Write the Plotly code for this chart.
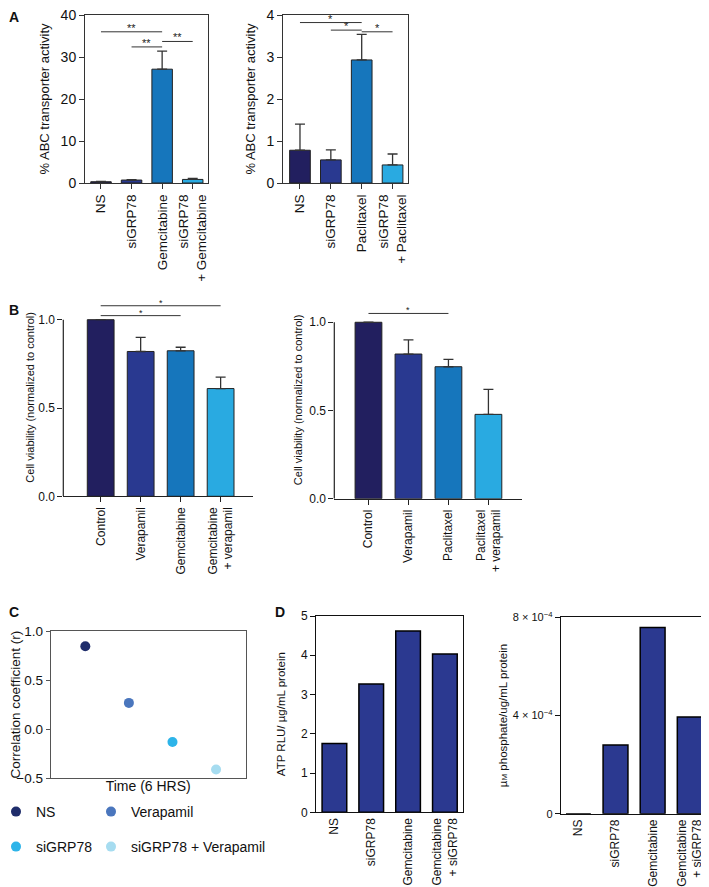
import plotly.graph_objects as go

FONT = "Liberation Sans, Arial, Helvetica, sans-serif"
W, H = 709, 887
OFF = 8  # page body margin compensation (px)

# ---------------- data ----------------
# Panel A (left: gemcitabine, right: paclitaxel)
a1_cats = ["NS", "siGRP78", "Gemcitabine", "siGRP78<br>+ Gemcitabine"]
a1_vals = [0.3, 0.7, 27.1, 0.85]
a1_err = [0.1, 0.1, 4.3, 0.25]
a1_sig = [(0, 2, 36.0, "**"), (1, 2, 32.4, "**"), (2, 3, 33.7, "**")]

a2_cats = ["NS", "siGRP78", "Paclitaxel", "siGRP78<br>+ Paclitaxel"]
a2_vals = [0.78, 0.55, 2.93, 0.43]
a2_err = [0.62, 0.24, 0.61, 0.26]
a2_sig = [(0, 2, 3.82, "*"), (1, 2, 3.64, "*"), (2, 3, 3.60, "*")]

bar_colors = ["#221f5f", "#293990", "#1676bc", "#29aae1"]

# Panel B
b1_cats = ["Control", "Verapamil", "Gemcitabine", "Gemcitabine<br>+ verapamil"]
b1_vals = [1.0, 0.82, 0.824, 0.61]
b1_err = [0.0, 0.08, 0.02, 0.065]
b1_sig = [(0, 2, 1.023, "*"), (0, 3, 1.079, "*")]

b2_cats = ["Control", "Verapamil", "Paclitaxel", "Paclitaxel<br>+ verapamil"]
b2_vals = [1.0, 0.82, 0.748, 0.478]
b2_err = [0.0, 0.08, 0.042, 0.142]
b2_sig = [(0, 2, 1.05, "*")]

# Panel C
c_series = ["NS", "Verapamil", "siGRP78", "siGRP78 + Verapamil"]
c_vals = [0.845, 0.268, -0.13, -0.41]
c_colors = ["#1f2d6b", "#4a76bd", "#2db4e9", "#a6dcf0"]
c_legend = ["legend", "legend", "legend2", "legend2"]

# Panel D
d1_cats = ["NS", "siGRP78", "Gemcitabine", "Gemcitabine<br>+ siGRP78"]
d1_vals = [1.75, 3.27, 4.62, 4.03]
d2_cats = ["NS", "siGRP78", "Gemcitabine", "Gemcitabine<br>+ siGRP78"]
d2_vals = [0.0, 2.8e-4, 7.58e-4, 3.94e-4]
d_color = "#2b3990"


def clamp(v):
    return min(max(v, 0.0), 1.0)


def px_x(p):
    return (p - OFF) / W


def px_y(p):
    return 1 - (p - OFF) / H


fig = go.Figure()


def add_bars(cats, vals, err, ax, colors, line_color="#222", line_w=1.0):
    fig.add_trace(go.Bar(
        x=cats, y=vals, xaxis="x" + ax, yaxis="y" + ax, width=0.67,
        marker=dict(color=colors, line=dict(color=line_color, width=line_w)),
        error_y=None if err is None else dict(
            type="data", array=err, arrayminus=[0] * len(err), symmetric=False,
            color="#333", thickness=1.3, width=5),
        showlegend=False, hoverinfo="x+y"))


add_bars(a1_cats, a1_vals, a1_err, "", bar_colors)
add_bars(a2_cats, a2_vals, a2_err, "2", bar_colors)
add_bars(b1_cats, b1_vals, b1_err, "3", bar_colors)
add_bars(b2_cats, b2_vals, b2_err, "4", bar_colors)
add_bars(d1_cats, d1_vals, None, "6", d_color, "#000", 1.5)
add_bars(d2_cats, d2_vals, None, "7", d_color, "#000", 1.5)

for i, (name, val, col, lg) in enumerate(zip(c_series, c_vals, c_colors, c_legend)):
    fig.add_trace(go.Scatter(
        x=[name], y=[val], xaxis="x5", yaxis="y5", mode="markers", name=name,
        marker=dict(size=10, color=col), legend=lg, showlegend=True,
        legendwidth=50 if i % 2 == 0 else 160))

shapes = []
annotations = []


def add_sig(sig, ax, fs=11):
    xr = "x" + ax
    yr = "y" + ax
    for i0, i1, h, lab in sig:
        shapes.append(dict(type="line", xref=xr, yref=yr, x0=i0, x1=i1, y0=h, y1=h,
                           line=dict(color="#333", width=1)))
        annotations.append(dict(xref=xr, yref=yr, x=(i0 + i1) / 2, y=h, text=lab,
                                showarrow=False, yanchor="bottom", yshift=-4,
                                font=dict(size=fs, color="#222", family=FONT)))


add_sig(a1_sig, "")
add_sig(a2_sig, "2")
add_sig(b1_sig, "3", fs=9)
add_sig(b2_sig, "4", fs=9)

# open-style y axis line for panel B (ends at top tick)
for ax in ["3", "4"]:
    shapes.append(dict(type="line", xref="x" + ax + " domain", yref="y" + ax,
                       x0=0, x1=0, y0=0, y1=1, line=dict(color="#222", width=1.2)))

# panel letters
for lab, x, y in [("A", 14, 17), ("B", 14, 310), ("C", 14, 612), ("D", 280, 612)]:
    annotations.append(dict(xref="paper", yref="paper", x=px_x(x), y=px_y(y), text="<b>%s</b>" % lab,
                            showarrow=False, xanchor="center", yanchor="middle",
                            font=dict(size=14, color="#111", family=FONT)))


def xax(dom, rng, fs, box=True, lc="#333", lw=1.0, **kw):
    d = dict(domain=[clamp(px_x(dom[0])), clamp(px_x(dom[1]))], range=rng, type="category",
             tickangle=-90, ticks="outside", ticklen=5, tickcolor=lc, tickwidth=lw,
             showline=True, linecolor=lc, linewidth=lw, mirror=box,
             showgrid=False, zeroline=False, automargin=False, ticklabeloverflow="allow",
             tickfont=dict(size=fs, color="#111", family=FONT))
    d.update(kw)
    return d


def yax(dom, rng, anchor, fs, title, tfs, standoff, box=True, lc="#333", lw=1.0, **kw):
    d = dict(domain=[clamp(px_y(dom[1])), clamp(px_y(dom[0]))], range=rng, anchor=anchor,
             ticks="outside", ticklen=5, tickcolor=lc, tickwidth=lw,
             showline=box, linecolor=lc, linewidth=lw, mirror=box,
             showgrid=False, zeroline=False, automargin=False, ticklabeloverflow="allow",
             tickfont=dict(size=fs, color="#111", family=FONT),
             title=dict(text=title, font=dict(size=tfs, color="#111", family=FONT), standoff=standoff))
    d.update(kw)
    return d


layout = dict(
    width=W, height=H, margin=dict(l=0, r=0, t=0, b=0, autoexpand=False),
    paper_bgcolor="white", plot_bgcolor="white",
    font=dict(family=FONT, color="#111"),
    bargap=0.3,
    shapes=shapes, annotations=annotations,
    xaxis=xax((85, 208), [-0.523, 3.5], 13.5, anchor="y"),
    yaxis=yax((15, 183), [0, 40], "x", 14, "% ABC transporter activity", 13, 8,
              tickvals=[0, 10, 20, 30, 40]),
    xaxis2=xax((283, 408), [-0.55, 3.5], 13.5, anchor="y2"),
    yaxis2=yax((15, 183), [0, 4], "x2", 14, "% ABC transporter activity", 13, 7,
               tickvals=[0, 1, 2, 3, 4]),
    xaxis3=xax((63.3, 253), [-0.935, 3.81], 12, box=False, lc="#222", lw=1.2, anchor="y3"),
    yaxis3=yax((298.5, 496.3), [0, 1.12], "x3", 12, "Cell viability (normalized to control)", 11, 1,
               box=False, lc="#222", lw=1.2, tickvals=[0, 0.5, 1.0], tickformat=".1f"),
    xaxis4=xax((334.3, 522), [-0.855, 3.84], 12, box=False, lc="#222", lw=1.2, anchor="y4"),
    yaxis4=yax((301.1, 498.7), [0, 1.12], "x4", 12, "Cell viability (normalized to control)", 11, 4,
               box=False, lc="#222", lw=1.2, tickvals=[0, 0.5, 1.0], tickformat=".1f"),
    xaxis5=xax((50.7, 245.7), [-0.794, 3.68], 14, lc="#555", anchor="y5",
               showticklabels=False, ticks="",
               title=dict(text="Time (6 HRS)", font=dict(size=14, color="#111", family=FONT), standoff=2)),
    yaxis5=yax((631, 778.3), [-0.5, 1.0], "x5", 13.5, "Correlation coefficient (r)", 13.5, 0,
               lc="#555", ticklen=4, tickvals=[-0.5, 0, 0.5, 1.0], tickformat=".1f"),
    xaxis6=xax((316, 463.3), [-0.5, 3.5], 12, lc="#111", anchor="y6", ticks=""),
    yaxis6=yax((616, 812.3), [0, 5], "x6", 12, "ATP RLU/ µg/mL protein", 11.5, 12,
               lc="#111", tickvals=[0, 1, 2, 3, 4, 5]),
    xaxis7=xax((560.7, 708.3), [-0.477, 3.5], 12, lc="#111", anchor="y7", ticks=""),
    yaxis7=yax((617.3, 813.7), [0, 8e-4], "x7", 11, "µ<span style='font-size:8px'>M</span> phosphate/ug/mL protein", 11.5, 2,
               lc="#111", tickvals=[0, 4e-4, 8e-4],
               ticktext=["0", "4 × 10<sup>−4</sup>", "8 × 10<sup>−4</sup>"]),
    legend=dict(orientation="h", x=px_x(-4), y=px_y(812), xanchor="left", yanchor="middle",
                bgcolor="rgba(0,0,0,0)",
                font=dict(size=14, color="#111", family=FONT)),
    legend2=dict(orientation="h", x=px_x(-4), y=px_y(847), xanchor="left", yanchor="middle",
                 bgcolor="rgba(0,0,0,0)",
                 font=dict(size=14, color="#111", family=FONT)),
)

fig.update_layout(**layout)
fig.write_html("out.html")
